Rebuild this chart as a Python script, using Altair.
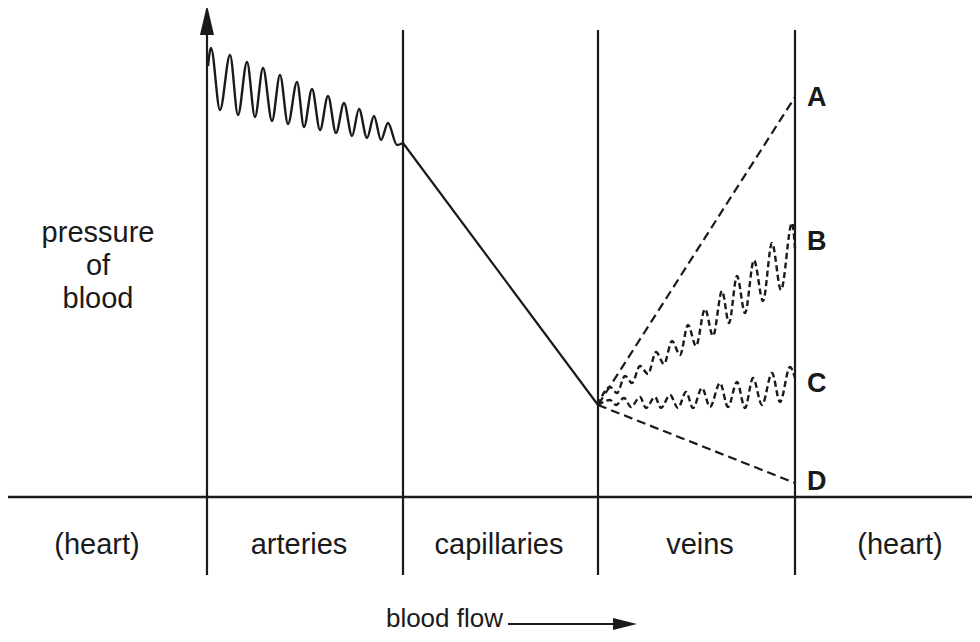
import altair as alt
import pandas as pd

# ---- diagram frame (page-pixel units) ----
boundary_x = [207, 403, 598, 795]
boundary_top = [35, 30, 30, 30]
boundary_bottom = [575, 575, 575, 575]
baseline_x = [8, 980]
baseline_y = [497, 497]

# arteries: pulsing pressure (peaks / troughs alternate)
artery_x = [208, 211, 220, 230, 238, 247, 255, 263, 272, 280, 288, 297, 304,
            312, 320, 328, 336, 344, 352, 359, 367, 374, 381, 388, 397, 403]
artery_y = [66, 48, 110, 55, 115, 62, 117, 68, 121, 75, 124, 82, 127,
            89, 130, 96, 133, 103, 136, 109, 138, 116, 140, 123, 145, 143]

# capillaries: steady fall
cap_x = [403, 598]
cap_y = [143, 405]

# veins: four alternatives
a_x = [598, 795]
a_y = [405, 97]
d_x = [598, 795]
d_y = [405, 483]
b_x = [598, 610, 617, 625, 632, 640, 648, 656, 664, 672, 680, 688, 696, 705,
       713, 722, 729, 737, 745, 754, 763, 772, 781, 792, 795]
b_y = [405, 387, 393, 376, 383, 366, 374, 352, 364, 341, 355, 325, 346, 309,
       336, 291, 323, 276, 313, 260, 301, 243, 290, 223, 248]
c_x = [598, 610, 616, 624, 631, 640, 646, 655, 661, 670, 678, 686, 693, 702,
       710, 720, 728, 737, 745, 753, 762, 772, 780, 790, 795]
c_y = [405, 400, 405, 398, 407, 397, 408, 397, 408, 395, 408, 392, 408, 388,
       407, 383, 407, 382, 408, 378, 405, 373, 402, 367, 378]

# labels
stage_labels = ["(heart)", "arteries", "capillaries", "veins", "(heart)"]
stage_label_x = [97, 299, 499, 700, 900]
stage_label_y = [545, 545, 545, 545, 545]
ylab_lines = ["pressure", "of", "blood"]
ylab_x = [98, 98, 98]
ylab_y = [233, 266, 299]
vein_letters = ["A", "B", "C", "D"]
vein_letter_x = [807, 807, 807, 807]
vein_letter_y = [98, 242, 384, 482]
flow_text = ["blood flow"]
flow_text_x = [503]
flow_text_y = [627]
flow_arrow_x = [508, 618]
flow_arrow_y = [624, 624]

FONT = "Liberation Sans"
W, H = 964, 626
xs = alt.Scale(domain=[8, 972], nice=False, zero=False)
ys = alt.Scale(domain=[8, 634], nice=False, zero=False, reverse=True)
INK = "#1a1a1a"


def X(f="x"):
    return alt.X(f"{f}:Q", scale=xs, axis=None)


def Y(f="y"):
    return alt.Y(f"{f}:Q", scale=ys, axis=None)


def line_df(xv, yv):
    return pd.DataFrame({"x": xv, "y": yv, "o": list(range(len(xv)))})


# vertical boundary lines
vdf = pd.DataFrame({"x": boundary_x, "y": boundary_top, "y2": boundary_bottom})
verticals = alt.Chart(vdf).mark_rule(color=INK, strokeWidth=2.2).encode(
    x=X(), y=Y(), y2="y2:Q")

hdf = pd.DataFrame({"x": [baseline_x[0]], "x2": [baseline_x[1]], "y": [baseline_y[0]]})
horizontal = alt.Chart(hdf).mark_rule(color=INK, strokeWidth=2.6).encode(
    x=X(), x2="x2:Q", y=Y())

# y-axis arrowhead
up_head = alt.Chart(pd.DataFrame({"x": [207], "y": [20]})).mark_point(
    shape="M0,-1L0.47,1L-0.47,1Z", size=900, filled=True, opacity=1,
    color=INK, strokeWidth=0).encode(x=X(), y=Y())

artery = alt.Chart(line_df(artery_x, artery_y)).mark_line(
    color=INK, strokeWidth=2.4, interpolate="monotone").encode(
    x=X(), y=Y(), order="o:Q")

capillary = alt.Chart(line_df(cap_x, cap_y)).mark_line(
    color=INK, strokeWidth=2.2).encode(x=X(), y=Y(), order="o:Q")

vein_a = alt.Chart(line_df(a_x, a_y)).mark_line(
    color=INK, strokeWidth=2.2, strokeDash=[9, 5]).encode(
    x=X(), y=Y(), order="o:Q")
vein_d = alt.Chart(line_df(d_x, d_y)).mark_line(
    color=INK, strokeWidth=2.2, strokeDash=[9, 5]).encode(
    x=X(), y=Y(), order="o:Q")
vein_b = alt.Chart(line_df(b_x, b_y)).mark_line(
    color=INK, strokeWidth=2.4, strokeDash=[6, 3.5], interpolate="monotone").encode(
    x=X(), y=Y(), order="o:Q")
vein_c = alt.Chart(line_df(c_x, c_y)).mark_line(
    color=INK, strokeWidth=2.4, strokeDash=[6, 3.5], interpolate="monotone").encode(
    x=X(), y=Y(), order="o:Q")

stage_text = alt.Chart(pd.DataFrame({"t": stage_labels, "x": stage_label_x, "y": stage_label_y})).mark_text(
    font=FONT, fontSize=29, color=INK, align="center", baseline="middle").encode(
    x=X(), y=Y(), text="t:N")

ylab_text = alt.Chart(pd.DataFrame({"t": ylab_lines, "x": ylab_x, "y": ylab_y})).mark_text(
    font=FONT, fontSize=29, color=INK, align="center", baseline="middle").encode(
    x=X(), y=Y(), text="t:N")

letters = alt.Chart(pd.DataFrame({"t": vein_letters, "x": vein_letter_x, "y": vein_letter_y})).mark_text(
    font=FONT, fontSize=27, fontWeight="bold", color=INK, align="left", baseline="middle").encode(
    x=X(), y=Y(), text="t:N")

flow_lbl = alt.Chart(pd.DataFrame({"t": flow_text, "x": flow_text_x, "y": flow_text_y})).mark_text(
    font=FONT, fontSize=26, color=INK, align="right", baseline="alphabetic").encode(
    x=X(), y=Y(), text="t:N")

flow_line = alt.Chart(line_df(flow_arrow_x, flow_arrow_y)).mark_line(
    color=INK, strokeWidth=2).encode(x=X(), y=Y(), order="o:Q")

flow_head = alt.Chart(pd.DataFrame({"x": [625], "y": [624]})).mark_point(
    shape="M1,0L-1,-0.5L-1,0.5Z", size=576, filled=True, opacity=1,
    color=INK, strokeWidth=0).encode(x=X(), y=Y())

chart = alt.layer(
    verticals, horizontal, up_head, artery, capillary,
    vein_a, vein_d, vein_b, vein_c,
    stage_text, ylab_text, letters, flow_lbl, flow_line, flow_head,
).properties(
    width=W, height=H, padding=0, autosize=alt.AutoSizeParams(type="none"),
    background="white",
).configure_view(stroke=None)

chart.save("out.html", embed_options={"renderer": "svg", "actions": False})
